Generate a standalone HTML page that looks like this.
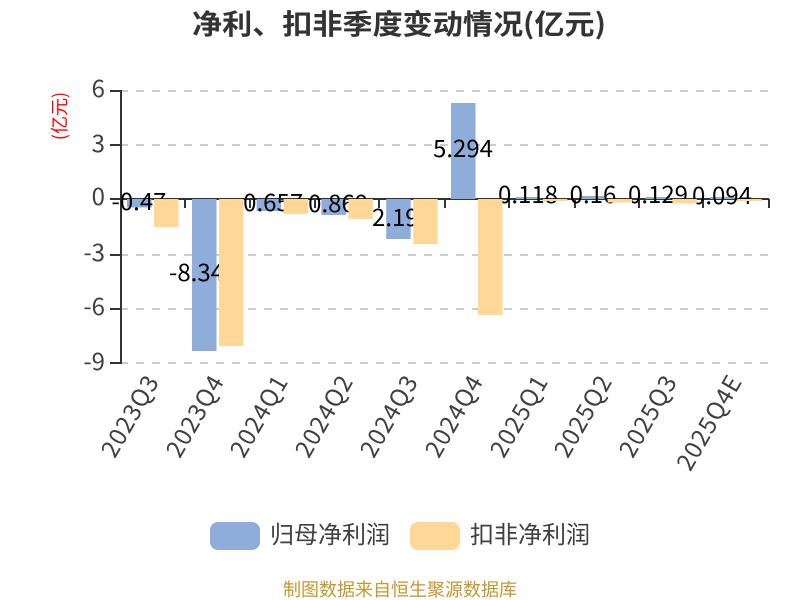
<!DOCTYPE html>
<html><head><meta charset="utf-8"><style>
html,body{margin:0;padding:0;background:#fff}
svg{display:block}
text{font-family:"Noto Sans CJK SC","Liberation Sans",sans-serif}
.g{stroke:#cccccc;stroke-width:2;stroke-dasharray:8 8}
.a{stroke:#333;stroke-width:2;fill:none}
.y{font-size:24px;fill:#404040;text-anchor:end}
.x{font-size:24px;fill:#404040;text-anchor:end;letter-spacing:1px}
.d{font-size:24px;fill:#000;text-anchor:middle}
.b{fill:#8eadda}.o{fill:#ffd898}
</style></head><body>
<svg width="800" height="600" viewBox="0 0 800 600" xmlns="http://www.w3.org/2000/svg">
<rect width="800" height="600" fill="#fff"/>
<text x="399" y="34" font-size="28" font-weight="700" fill="#333" text-anchor="middle" textLength="414" lengthAdjust="spacingAndGlyphs">净利、扣非季度变动情况(亿元)</text>
<text transform="translate(66,116) rotate(-90)" font-size="18" fill="#f00" text-anchor="middle">(亿元)</text>

<line class="g" x1="120" x2="769" y1="91" y2="91"/>
<line class="g" x1="120" x2="769" y1="145" y2="145"/>
<line class="g" x1="120" x2="769" y1="255" y2="255"/>
<line class="g" x1="120" x2="769" y1="309" y2="309"/>
<line class="g" x1="120" x2="769" y1="363" y2="363"/>

<path class="a" d="M121 90V364M110 91H121M110 145H121M110 199H121M110 255H121M110 309H121M110 363H121"/>
<path class="a" d="M121 199H769M185 199V208M250 199V208M315 199V208M379 199V208M445 199V208M509 199V208M575 199V208M639 199V208M703 199V208M769 199V208"/>

<g class="y">
<text x="105" y="97">6</text><text x="105" y="152">3</text><text x="105" y="205">0</text>
<text x="105" y="261">-3</text><text x="105" y="315">-6</text><text x="105" y="370">-9</text>
</g>

<!-- blue series -->
<rect class="b" x="127" y="199" width="24.5" height="8.5"/>
<rect class="b" x="192" y="199" width="24.5" height="152"/>
<rect class="b" x="256.6" y="199" width="24.5" height="12"/>
<rect class="b" x="321.4" y="199" width="24.5" height="16"/>
<rect class="b" x="386.2" y="199" width="24.5" height="40"/>
<rect class="b" x="451" y="103" width="24.5" height="96"/>
<rect class="b" x="515.8" y="197" width="24.5" height="2"/>
<rect class="b" x="580.6" y="196" width="24.5" height="3"/>
<rect class="b" x="645.4" y="197" width="24.5" height="2"/>
<rect class="b" x="710.2" y="197" width="24.5" height="2"/>

<!-- blue labels -->
<g class="d">
<text x="139" y="210">-0.47</text>
<text x="169" y="281" text-anchor="start">-8.34</text>
<text x="269" y="211">-0.657</text>
<text x="334" y="212">-0.869</text>
<text x="372" y="226" text-anchor="start">2.19</text>
<text x="463" y="157">5.294</text>
<text x="528" y="203">0.118</text>
<text x="593" y="203">0.16</text>
<text x="658" y="203">0.129</text>
<text x="722" y="204">0.094</text>
</g>

<!-- orange series -->
<rect class="o" x="154" y="199" width="24.5" height="28"/>
<rect class="o" x="219" y="199" width="24.5" height="147"/>
<rect class="o" x="283.6" y="199" width="24.5" height="15"/>
<rect class="o" x="348.4" y="199" width="24.5" height="20"/>
<rect class="o" x="413.2" y="199" width="24.5" height="45"/>
<rect class="o" x="478" y="199" width="24.5" height="116"/>
<rect class="o" x="542.8" y="199" width="24.5" height="2"/>
<rect class="o" x="607.6" y="199" width="24.5" height="3.5"/>
<rect class="o" x="672.4" y="199" width="24.5" height="4.5"/>
<rect class="o" x="737.2" y="199" width="24.5" height="2"/>

<!-- category labels -->
<g class="x">
<text transform="translate(160,381) rotate(-60)">2023Q3</text>
<text transform="translate(225,381) rotate(-60)">2023Q4</text>
<text transform="translate(289,381) rotate(-60)">2024Q1</text>
<text transform="translate(354,381) rotate(-60)">2024Q2</text>
<text transform="translate(419,381) rotate(-60)">2024Q3</text>
<text transform="translate(484,381) rotate(-60)">2024Q4</text>
<text transform="translate(549,381) rotate(-60)">2025Q1</text>
<text transform="translate(613,381) rotate(-60)">2025Q2</text>
<text transform="translate(678,381) rotate(-60)">2025Q3</text>
<text transform="translate(743,381) rotate(-60)">2025Q4E</text>
</g>

<!-- legend -->
<rect class="b" x="210" y="522" width="50" height="28" rx="8"/>
<text x="270" y="543" font-size="24" fill="#404040">归母净利润</text>
<rect class="o" x="410" y="522" width="50" height="28" rx="8"/>
<text x="470" y="543" font-size="24" fill="#404040">扣非净利润</text>

<text x="400" y="596" font-size="18" fill="#c8962e" text-anchor="middle">制图数据来自恒生聚源数据库</text>
</svg>
</body></html>
